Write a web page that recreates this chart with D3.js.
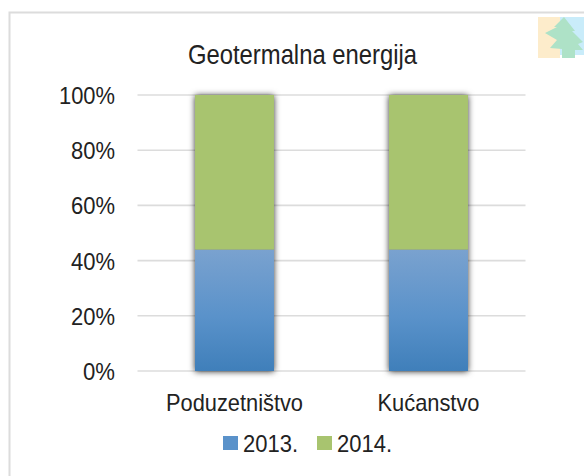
<!DOCTYPE html>
<html><head><meta charset="utf-8">
<script src="https://cdn.jsdelivr.net/npm/d3@7"></script>
<style>html,body{margin:0;background:#fff}svg{display:block}text{font-family:"Liberation Sans",Arial,sans-serif;fill:#222}</style>
</head><body><svg id="c" width="584" height="476"></svg>
<script>
const categories=["Poduzetništvo","Kućanstvo"];
const categoryWidths=[137,102];
const seriesNames=["2013.","2014."];
const values2013=[44,44];
const values2014=[56,56];
const yTicks=[0,20,40,60,80,100];
const colors=["#4a86c0","#a8c46f"];

const svg=d3.select("#c");
const defs=svg.append("defs");
const g=defs.append("linearGradient").attr("id","blue").attr("x1",0).attr("y1",0).attr("x2",0).attr("y2",1);
g.append("stop").attr("offset","0%").attr("stop-color","#7aa2cf");
g.append("stop").attr("offset","55%").attr("stop-color","#5a92ca");
g.append("stop").attr("offset","100%").attr("stop-color","#3f7fba");
const f=defs.append("filter").attr("id","sh").attr("x","-20%").attr("y","-5%").attr("width","140%").attr("height","110%");
f.append("feDropShadow").attr("dx",0).attr("dy",0.5).attr("stdDeviation",3).attr("flood-color","#000").attr("flood-opacity",.8);
const bl=defs.append("filter").attr("id","soft");
bl.append("feGaussianBlur").attr("stdDeviation",.6);

// frame
svg.append("path").attr("d","M9.5,476V12.5H584").attr("fill","none").attr("stroke","#dcdcdc").attr("stroke-width",2);

// small tree logo
const logo=svg.append("g").attr("transform","translate(538,16)").attr("filter","url(#soft)");
logo.append("rect").attr("y",1).attr("width",22).attr("height",41).attr("fill","#fdeccb");
logo.append("rect").attr("x",22).attr("y",1).attr("width",24).attr("height",38).attr("fill","#c9ecfa");
logo.append("path").attr("d","M26,1L37,15L34,15L45,26L40,28L45,34L37,34L37,42L24,42L24,33L12,32L19,24L7,17L19,11L16,11Z").attr("fill","#aee2c7");

const x=d3.scaleBand().domain(categories).range([137.5,525.5]).paddingInner(.593).paddingOuter(.2965);
const y=d3.scaleLinear().domain([0,100]).range([371,95]);

svg.append("g").selectAll("line").data(yTicks).join("line")
 .attr("x1",137.5).attr("x2",525.5).attr("y1",d=>y(d)).attr("y2",d=>y(d))
 .attr("stroke","#dcdcdc").attr("stroke-width",1.6);

const bars=svg.append("g");
categories.forEach((c,i)=>{
  const b=bars.append("g");
  b.append("rect").attr("x",x(c)).attr("width",x.bandwidth()).attr("y",y(100)).attr("height",y(0)-y(100)).attr("fill","#888").attr("filter","url(#sh)");
  b.append("rect").attr("x",x(c)).attr("width",x.bandwidth()).attr("y",y(values2013[i])).attr("height",y(0)-y(values2013[i])).attr("fill","url(#blue)");
  b.append("rect").attr("x",x(c)).attr("width",x.bandwidth()).attr("y",y(100)).attr("height",y(values2013[i])-y(100)).attr("fill",colors[1]);
});

const yAxis=d3.axisLeft(y).tickValues(yTicks).tickSize(0).tickFormat(d=>d+"%");
const ya=svg.append("g").attr("transform","translate(115,0)").call(yAxis);
ya.select(".domain").remove();
ya.selectAll("text").attr("font-size",24.5).attr("x",0).attr("dy","0.35em")
  .attr("textLength",d=>String(d).length*12+20).attr("lengthAdjust","spacingAndGlyphs");

const xAxis=d3.axisBottom(x).tickSize(0);
const xa=svg.append("g").attr("transform","translate(0,371)").call(xAxis);
xa.select(".domain").remove();
xa.selectAll("text").attr("font-size",24).attr("y",40).attr("dy",0)
  .attr("textLength",(d,i)=>categoryWidths[i]).attr("lengthAdjust","spacingAndGlyphs");

svg.append("text").attr("x",302.5).attr("y",64).attr("text-anchor","middle").attr("font-size",27.5)
  .attr("textLength",229).attr("lengthAdjust","spacingAndGlyphs").text("Geotermalna energija");

const lx=[223,317];
const leg=svg.append("g").selectAll("g").data(seriesNames).join("g").attr("transform",(d,i)=>`translate(${lx[i]},436)`);
leg.append("rect").attr("width",15).attr("height",14).attr("fill",(d,i)=>i?colors[1]:"#5a92ca");
leg.append("text").attr("x",20).attr("y",15.5).attr("font-size",24).attr("textLength",55).attr("lengthAdjust","spacingAndGlyphs").text(d=>d);
</script></body></html>
